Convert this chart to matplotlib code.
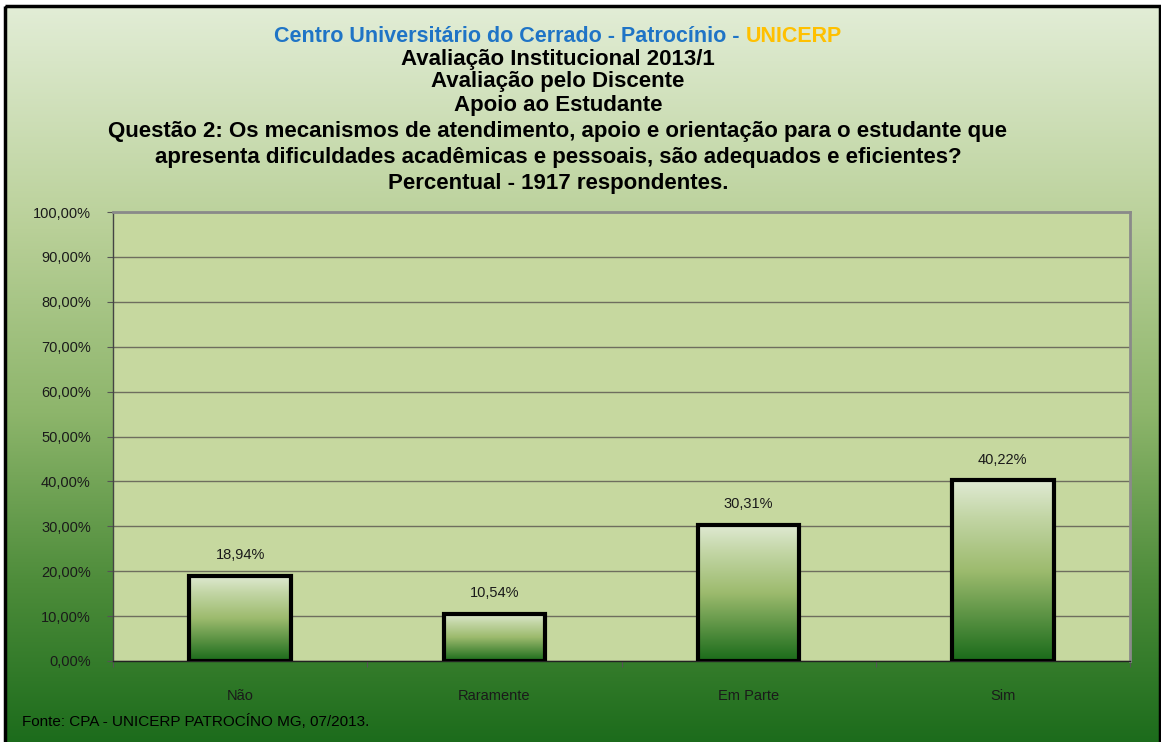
import numpy as np
import matplotlib
matplotlib.use("Agg")
import matplotlib.pyplot as plt
from matplotlib.colors import LinearSegmentedColormap
from matplotlib.patches import Rectangle

plt.rcParams['font.family'] = ['Liberation Sans', 'DejaVu Sans']

# dados
categorias = ["Não", "Raramente", "Em Parte", "Sim"]
valores = [18.94, 10.54, 30.31, 40.22]
rotulos = ["18,94%", "10,54%", "30,31%", "40,22%"]
yticks = [0, 10, 20, 30, 40, 50, 60, 70, 80, 90, 100]
ytick_labels = ["0,00%", "10,00%", "20,00%", "30,00%", "40,00%", "50,00%",
                "60,00%", "70,00%", "80,00%", "90,00%", "100,00%"]

titulo_l1a = "Centro Universitário do Cerrado - Patrocínio - "
titulo_l1b = "UNICERP"
titulo_resto = ["Avaliação Institucional 2013/1",
                "Avaliação pelo Discente",
                "Apoio ao Estudante",
                "Questão 2: Os mecanismos de atendimento, apoio e orientação para o estudante que",
                "apresenta dificuldades acadêmicas e pessoais, são adequados e eficientes?",
                "Percentual - 1917 respondentes."]
fonte = "Fonte: CPA - UNICERP PATROCÍNO MG, 07/2013."

W, H = 1161, 742
fig = plt.figure(figsize=(W / 100, H / 100), dpi=100)
fig.patch.set_facecolor("white")

# fundo em degrade
fundo_cmap = LinearSegmentedColormap.from_list(
    "fundo", [(0.0, "#e2edd6"), (0.3, "#b9d098"), (0.55, "#8db56b"),
              (0.78, "#4d8c3a"), (1.0, "#1b6b1b")])
bg = fig.add_axes([0, 0, 1, 1], zorder=-10)
bg.axis("off")
grad = np.linspace(0, 1, 256).reshape(-1, 1)
bg.imshow(grad, cmap=fundo_cmap, extent=[5, 1160, H + 5, 6], aspect="auto")
bg.add_patch(Rectangle((5, 6), 1155, H + 20, fill=False, edgecolor="black", lw=2.5))
bg.set_xlim(0, W)
bg.set_ylim(H, 0)

# area do grafico
ax = fig.add_axes([113 / W, 1 - 661 / H, (1130 - 113) / W, (661 - 212) / H])
ax.set_facecolor("#c6d89f")
x = np.arange(len(categorias))

barras = ax.bar(x, valores, width=0.4, facecolor="none", edgecolor="black",
                linewidth=3, zorder=3)
barra_cmap = LinearSegmentedColormap.from_list(
    "barra", [(0.0, "#e0ead4"), (0.2, "#c3d6a6"), (0.5, "#9dbb6e"), (1.0, "#1a6b1a")])
for b in barras:
    x0, y0 = b.get_x(), b.get_y()
    w, h = b.get_width(), b.get_height()
    im = ax.imshow(grad, cmap=barra_cmap, extent=[x0, x0 + w, y0, y0 + h],
                   aspect="auto", zorder=2)
    im.set_clip_path(b)
ax.set_xlim(-0.5, len(categorias) - 0.5)
ax.set_ylim(0, 100)

for xi, v, r in zip(x, valores, rotulos):
    ax.annotate(r, (xi, v), xytext=(0, 15), textcoords="offset points",
                ha="center", va="center", fontsize=10.5, color="#1a1a1a")

ax.set_yticks(yticks)
ax.set_yticklabels(ytick_labels, fontsize=10.5, color="#1a1a1a")
ax.yaxis.grid(True, color="#6e6e5e", linewidth=1)
ax.set_axisbelow(True)
ax.tick_params(axis="y", length=4, pad=12, color="#555555")

ax.set_xticks(np.arange(len(categorias) + 1) - 0.5)
ax.set_xticklabels([])
ax.set_xticks(x, minor=True)
ax.set_xticklabels(categorias, minor=True, fontsize=10.5, color="#1a1a1a")
ax.tick_params(axis="x", which="major", length=4, color="#555555")
ax.tick_params(axis="x", which="minor", length=0, pad=20)

for s in ["top", "right"]:
    ax.spines[s].set_color("#8a8a8a")
    ax.spines[s].set_linewidth(2)
ax.spines["left"].set_color("#444444")
ax.spines["bottom"].set_color("#222222")
ax.spines["left"].set_linewidth(1)
ax.spines["bottom"].set_linewidth(1)

# titulo
cx = 558 / W
tam = 16
y1 = 1 - 36 / H
renderer = fig.canvas.get_renderer()
ta = fig.text(0, y1, titulo_l1a, fontsize=15.5, fontweight="bold", color="#1f74c6",
              ha="left", va="center")
tb = fig.text(0, y1, titulo_l1b, fontsize=15.5, fontweight="bold", color="#ffc000",
              ha="left", va="center")
wa = ta.get_window_extent(renderer).width / W
wb = tb.get_window_extent(renderer).width / W
ta.set_x(cx - (wa + wb) / 2)
tb.set_x(cx - (wa + wb) / 2 + wa)

ys = [59, 82, 105, 131, 157, 183]
for linha, yy in zip(titulo_resto, ys):
    fig.text(cx, 1 - yy / H, linha, fontsize=tam, fontweight="bold", color="black",
             ha="center", va="center")

fig.text(22 / W, 1 - 722 / H, fonte, fontsize=11, color="black", ha="left", va="center")

fig.savefig("out.png", dpi=100)
